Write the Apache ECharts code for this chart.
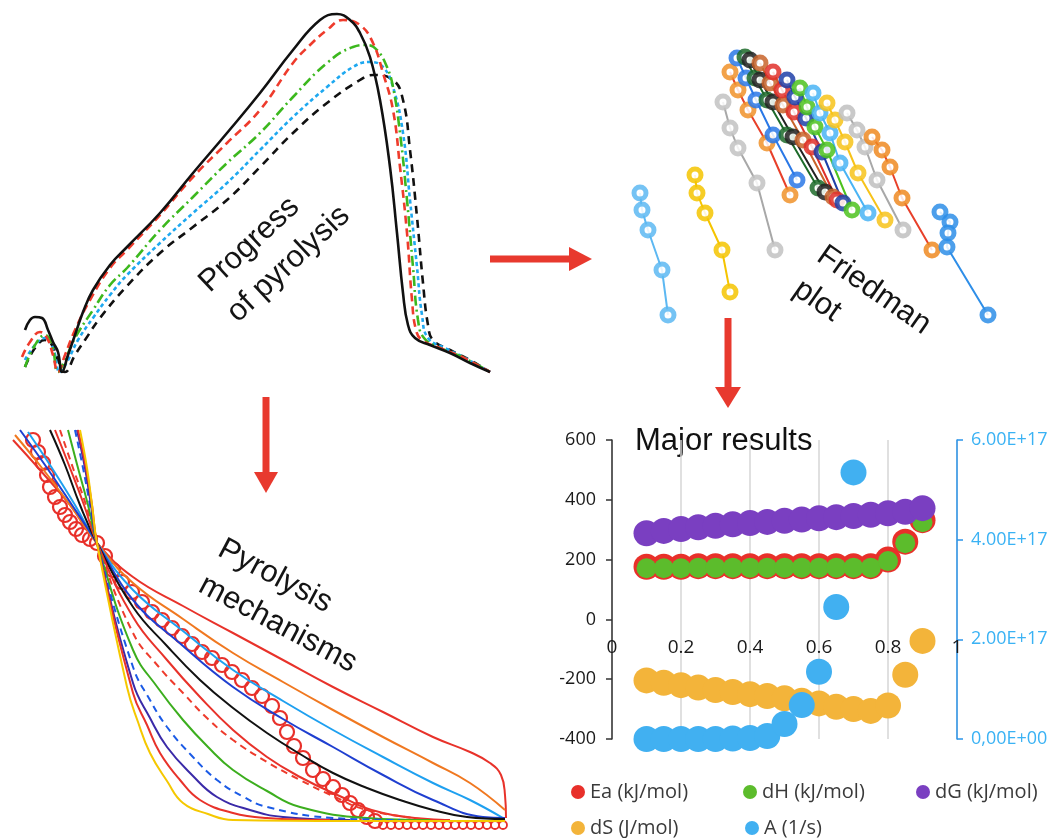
<!DOCTYPE html>
<html>
<head>
<meta charset="utf-8">
<title>Pyrolysis kinetics overview</title>
<script src="https://cdn.jsdelivr.net/npm/echarts/dist/echarts.min.js"></script>
<style>
  html, body { margin: 0; padding: 0; background: #fff; }
  #main { width: 1057px; height: 838px; }
</style>
</head>
<body>
<div id="main"></div>
<script>
// ---------- progress of pyrolysis (rate curves, arbitrary units) ----------
var dtgBlack = [[25,60],[30,70],[35,73],[42,72],[48,60],[53,48],[58,38],[62,18],[68,35],[75,55],[83,78],[93,100],[110,125],[127,143],[160,177],[193,217],[227,257],[260,297],[293,340],[320,370],[337,376],[350,370],[360,357],[370,333],[380,290],[390,223],[397,157],[403,97],[408,65],[415,52],[430,45],[450,37],[470,27],[490,18]];
var dtgRedDash = [[22,33],[30,48],[40,58],[47,52],[53,35],[58,18],[65,35],[75,60],[90,90],[110,122],[127,140],[160,175],[193,213],[227,247],[260,280],[293,327],[310,345],[327,360],[343,370],[360,365],[373,347],[383,317],[393,280],[400,223],[407,157],[412,90],[416,60],[422,50],[440,42],[460,34],[490,18]];
var dtgGreen = [[25,23],[35,45],[45,55],[52,45],[58,18],[65,30],[75,52],[93,80],[110,105],[127,122],[160,160],[193,193],[227,227],[260,257],[293,293],[327,327],[353,343],[367,345],[377,340],[387,323],[393,303],[400,257],[407,190],[413,123],[418,70],[424,52],[440,42],[460,34],[490,18]];
var dtgBlue = [[25,30],[35,45],[45,52],[53,42],[60,18],[68,30],[78,50],[93,72],[110,95],[127,115],[160,147],[193,177],[227,207],[260,240],[293,273],[327,303],[353,323],[370,328],[383,323],[393,303],[403,257],[410,190],[417,123],[422,75],[428,52],[445,42],[465,32],[490,18]];
var dtgBlackDash = [[25,23],[35,42],[45,50],[52,45],[58,30],[65,18],[75,35],[85,50],[100,72],[127,104],[160,137],[193,163],[227,190],[260,223],[293,257],[327,287],[360,310],[373,315],[393,310],[403,290],[410,240],[417,173],[423,107],[428,65],[433,50],[450,40],[470,30],[490,18]];

// ---------- Friedman plot (ln rate vs 1/T, arbitrary units) ----------
var friedBlueLeft = [[640,147],[642,130],[648,110],[662,70],[668,25]];
var friedYellowLeft = [[695,165],[697,147],[705,127],[722,90],[730,48]];
var friedGreyLeft = [[723,238],[730,212],[738,192],[757,157],[775,90]];
var friedOrangeLeft = [[730,268],[738,250],[748,230],[767,197],[790,145]];
var friedBlue = [[737,282],[746,262],[756,240],[773,205],[797,160]];
var friedDarkGreen = [[745,283],[755,262],[767,240],[787,205],[818,152]];
var friedBlack = [[750,280],[760,260],[773,238],[793,203],[825,148]];
var friedBrown = [[760,277],[770,257],[783,235],[803,200],[833,143]];
var friedRed = [[773,268],[782,250],[794,228],[812,193],[837,140]];
var friedNavy = [[787,260],[795,243],[806,222],[822,188],[843,137]];
var friedGreen = [[800,252],[807,233],[815,213],[827,190],[852,130]];
var friedSky = [[813,247],[820,227],[830,207],[840,177],[868,127]];
var friedYellow = [[827,237],[835,220],[845,198],[858,167],[885,120]];
var friedGrey = [[847,227],[857,210],[865,193],[877,160],[903,110]];
var friedOrange = [[872,203],[882,190],[890,173],[902,142],[932,90]];
var friedBlueRight = [[940,128],[950,118],[948,107],[947,93],[988,25]];

// ---------- pyrolysis mechanisms (master plots, arbitrary units) ----------
var mechRedOuter = [[13,398],[40,368],[70,333],[97,295],[133,261],[183,232],[233,205],[283,178],[333,151],[383,126],[433,101],[470,86],[490,75],[501,63],[505,43],[506,20]];
var mechOrange = [[15,403],[42,370],[70,333],[97,295],[133,255],[183,219],[233,185],[283,156],[333,128],[383,101],[433,75],[470,55],[505,28]];
var mechSky = [[28,406],[50,373],[75,333],[97,295],[133,248],[183,207],[233,168],[283,137],[333,108],[383,81],[433,55],[470,38],[503,20]];
var mechBlue = [[20,408],[45,373],[72,333],[97,295],[133,238],[183,192],[233,151],[283,119],[333,91],[383,63],[433,38],[483,21],[505,20]];
var mechBlack = [[50,408],[65,373],[80,333],[97,295],[133,231],[167,192],[200,158],[233,130],[267,105],[300,84],[333,65],[367,50],[400,38],[433,28],[467,21],[505,19]];
var mechRed1 = [[55,408],[70,370],[84,333],[97,295],[133,221],[167,178],[200,141],[233,108],[267,81],[300,61],[333,45],[383,25],[450,18]];
var mechRedDash = [[60,408],[73,370],[86,333],[97,295],[133,205],[158,172],[183,145],[208,119],[233,98],[267,76],[300,58],[333,42],[367,28],[430,18]];
var mechGreen = [[68,408],[78,370],[88,333],[97,295],[133,188],[158,150],[183,118],[208,91],[233,68],[267,47],[300,31],[367,20],[430,18]];
var mechBlueDash = [[75,408],[83,370],[90,333],[97,295],[133,171],[150,138],[167,111],[192,82],[217,58],[242,42],[267,31],[333,20],[400,18]];
var mechPurple = [[77,408],[85,370],[91,333],[97,295],[133,155],[150,120],[167,91],[192,63],[217,41],[250,28],[283,21],[350,18]];
var mechRed2 = [[78,408],[86,370],[92,333],[97,295],[133,145],[147,113],[160,85],[180,58],[200,38],[233,25],[267,20],[330,18]];
var mechYellow = [[80,408],[87,370],[92,333],[97,295],[127,151],[138,116],[150,85],[167,57],[183,35],[208,24],[233,18],[350,17],[505,17]];
var mechExp = [[33,398],[38,386],[43,375],[47,363],[50,351],[55,341],[60,331],[65,323],[70,316],[76,309],[82,303],[90,299],[97,295],[105,282],[113,268],[122,256],[132,246],[142,236],[152,226],[162,218],[172,210],[182,202],[192,194],[202,186],[212,180],[222,173],[232,166],[242,158],[252,150],[262,142],[272,132],[280,120],[287,106],[294,92],[303,80],[313,68],[323,59],[333,51],[342,43],[350,35],[358,28],[367,21],[375,17]];
var mechExpTail = [[383,13],[391,13],[399,13],[407,13],[415,13],[423,13],[431,13],[439,13],[447,13],[455,13],[463,13],[471,13],[479,13],[487,13],[495,13],[503,13]];

// ---------- major results ----------
var alpha = [0.1,0.15,0.2,0.25,0.3,0.35,0.4,0.45,0.5,0.55,0.6,0.65,0.7,0.75,0.8,0.85,0.9];
var ea = [176,176,176,178,178,178,178,178,178,178,178,178,178,178,200,260,332];
var dH = [171,171,171,173,173,173,173,173,173,173,173,173,173,173,195,255,325];
var dG = [288,296,302,308,313,318,322,326,330,334,338,342,346,350,355,360,372];
var dS = [-204,-212,-220,-228,-236,-243,-250,-256,-264,-272,-281,-292,-300,-306,-288,-185,-72];
var preExp = [0,0,0,0,0,0.01,0.02,0.06,0.3,0.68,1.35,2.65,5.35]; // x 1E+17, alpha 0.1 .. 0.7

var RED = '#e8392e';

function zip(xs, ys, k) {
  return ys.map(function (y, i) { return [xs[i], y * (k || 1)]; });
}

function curve(data, color, dash, grid) {
  return {
    type: 'line', xAxisIndex: grid, yAxisIndex: grid, data: data,
    symbol: 'none', smooth: 0.45, silent: true,
    lineStyle: { color: color, width: grid === 0 ? 2.6 : 2, type: dash || 'solid' }
  };
}

function fried(data, marker, line) {
  return {
    type: 'line', xAxisIndex: 1, yAxisIndex: 1, data: data,
    symbol: 'circle', symbolSize: 12, silent: true,
    itemStyle: { color: '#fff', borderColor: marker, borderWidth: 5, opacity: 0.85 },
    lineStyle: { color: line || marker, width: 2 }
  };
}

function dot(name, data, size, color, yIdx) {
  return {
    name: name, type: 'scatter', xAxisIndex: 3, yAxisIndex: yIdx || 3, data: data,
    symbolSize: size, itemStyle: { color: color, opacity: 1 }
  };
}

function hiddenAxis(grid, min, max) {
  return { gridIndex: grid, type: 'value', min: min, max: max, show: false };
}

var series = [
  curve(dtgBlackDash, '#111', [8, 6], 0),
  curve(dtgBlue, '#1ea8f0', [4, 3], 0),
  curve(dtgGreen, '#3cb81e', [10, 4, 2, 4], 0),
  curve(dtgRedDash, '#ee3b2c', [8, 5], 0),
  curve(dtgBlack, '#111', 'solid', 0),

  fried(friedBlueLeft, '#5db8f2'),
  fried(friedYellowLeft, '#f5c400'),
  fried(friedGreyLeft, '#c2c2c2', '#a8a8a8'),
  fried(friedOrangeLeft, '#f0922a', '#e8402a'),
  fried(friedBlue, '#2a78e6'),
  fried(friedDarkGreen, '#1d6b2a'),
  fried(friedBlack, '#222222'),
  fried(friedBrown, '#c8642a'),
  fried(friedRed, '#e0302a'),
  fried(friedNavy, '#1f40a8'),
  fried(friedGreen, '#4cc21e'),
  fried(friedSky, '#4ab4f4'),
  fried(friedYellow, '#f7c31a'),
  fried(friedGrey, '#c0c0c0', '#a8a8a8'),
  fried(friedOrange, '#ef8a22', '#e8402a'),
  fried(friedBlueRight, '#2e8ee8'),

  curve(mechRedOuter, '#e8322a', 'solid', 2),
  curve(mechOrange, '#f07820', 'solid', 2),
  curve(mechSky, '#1ea0f0', 'solid', 2),
  curve(mechBlue, '#1f3fd0', 'solid', 2),
  curve(mechBlack, '#111', 'solid', 2),
  curve(mechRed1, '#e8322a', 'solid', 2),
  curve(mechRedDash, '#ee3b2c', [7, 5], 2),
  curve(mechGreen, '#3cae1e', 'solid', 2),
  curve(mechBlueDash, '#1a5ae6', [7, 5], 2),
  curve(mechPurple, '#3a2aa8', 'solid', 2),
  curve(mechRed2, '#e8322a', 'solid', 2),
  curve(mechYellow, '#f5c800', 'solid', 2),
  {
    type: 'scatter', xAxisIndex: 2, yAxisIndex: 2, data: mechExp, silent: true,
    symbol: 'circle', symbolSize: 14,
    itemStyle: { color: 'transparent', borderColor: '#e8302a', borderWidth: 2.2, opacity: 1 }
  },
  {
    type: 'scatter', xAxisIndex: 2, yAxisIndex: 2, data: mechExpTail, silent: true,
    symbol: 'circle', symbolSize: 8,
    itemStyle: { color: 'transparent', borderColor: '#e8302a', borderWidth: 1.8, opacity: 1 }
  },

  dot('Ea (kJ/mol)', zip(alpha, ea), 26, '#e8302a'),
  dot('dH (kJ/mol)', zip(alpha, dH), 20, '#5cbc2c'),
  dot('dG (kJ/mol)', zip(alpha, dG), 26, '#7a3fc1'),
  dot('dS (J/mol)', zip(alpha, dS), 26, '#f3b43a'),
  dot('A (1/s)', zip(alpha, preExp, 1e17), 26, '#41b0f1', 4)
];

// one legend per entry so the two rows line up in columns
var legendSpots = [
  ['Ea (kJ/mol)', 571, 782], ['dH (kJ/mol)', 743, 782], ['dG (kJ/mol)', 916, 782],
  ['dS (J/mol)', 571, 818], ['A (1/s)', 745, 818]
];
var legends = legendSpots.map(function (s) {
  return {
    data: [s[0]], left: s[1], top: s[2], padding: 0, icon: 'circle',
    itemWidth: 14, itemHeight: 14, itemGap: 0, selectedMode: false,
    textStyle: { fontSize: 20, color: '#3a3a3a', fontFamily: 'Open Sans' }
  };
});

var labelText = { fontFamily: 'Liberation Sans', fontSize: 31, fill: '#141414', align: 'left', verticalAlign: 'top', lineHeight: 41 };

var option = {
  animation: false,
  backgroundColor: '#fff',
  legend: legends,
  grid: [
    { left: 0, top: 0, width: 500, height: 390 },
    { left: 590, top: 30, width: 420, height: 310 },
    { left: 0, top: 420, width: 520, height: 418 },
    { left: 612, top: 440, width: 345, height: 299 }
  ],
  xAxis: [
    hiddenAxis(0, 0, 500),
    hiddenAxis(1, 590, 1010),
    hiddenAxis(2, 0, 520),
    {
      // labels sit on the zero line of the left axis (120 px above the bottom)
      gridIndex: 3, type: 'value', min: 0, max: 1, interval: 0.2,
      position: 'bottom', offset: -120,
      axisLine: { onZero: false, lineStyle: { opacity: 0 } },
      axisTick: { show: false },
      axisLabel: { fontSize: 19, color: '#1a1a1a', margin: 19, fontFamily: 'Open Sans' },
      splitLine: { show: true, lineStyle: { color: '#d6d6d6', width: 1.5 } }
    }
  ],
  yAxis: [
    hiddenAxis(0, 0, 390),
    hiddenAxis(1, 0, 310),
    hiddenAxis(2, 0, 418),
    {
      gridIndex: 3, type: 'value', position: 'left', min: -400, max: 600, interval: 200,
      axisLine: { show: true, onZero: false, lineStyle: { color: '#333', width: 1.5 } },
      axisTick: { show: true, length: 6, lineStyle: { color: '#333', width: 1.5 } },
      axisLabel: { fontSize: 18, color: '#1a1a1a', margin: 16, fontFamily: 'Open Sans' },
      splitLine: { show: false }
    },
    {
      gridIndex: 3, type: 'value', position: 'right', min: 0, max: 6e17, interval: 2e17,
      axisLine: { show: true, onZero: false, lineStyle: { color: '#2b95ea', width: 1.5 } },
      axisTick: { show: true, length: 6, lineStyle: { color: '#2b95ea', width: 1.5 } },
      axisLabel: {
        fontSize: 18, color: '#3ab2f4', margin: 14, fontFamily: 'Open Sans',
        formatter: function (v) { return v === 0 ? '0,00E+00' : (v / 1e17).toFixed(2) + 'E+17'; }
      },
      splitLine: { show: false }
    }
  ],
  graphic: [
    // arrows between the panels
    { type: 'rect', shape: { x: 490, y: 255.5, width: 81, height: 7 }, style: { fill: RED } },
    { type: 'polygon', shape: { points: [[569, 247], [592, 259], [569, 271]] }, style: { fill: RED } },
    { type: 'rect', shape: { x: 724.5, y: 318, width: 7, height: 71 }, style: { fill: RED } },
    { type: 'polygon', shape: { points: [[715, 387], [741, 387], [728, 408]] }, style: { fill: RED } },
    { type: 'rect', shape: { x: 262.5, y: 397, width: 7, height: 77 }, style: { fill: RED } },
    { type: 'polygon', shape: { points: [[254, 472], [278, 472], [266, 493]] }, style: { fill: RED } },
    // panel captions
    { type: 'text', x: 190, y: 272, rotation: 43 * Math.PI / 180, style: Object.assign({ text: 'Progress\nof pyrolysis' }, labelText) },
    { type: 'text', x: 832, y: 236, rotation: -35 * Math.PI / 180, style: Object.assign({ text: 'Friedman\nplot' }, labelText) },
    { type: 'text', x: 230, y: 529, rotation: -28 * Math.PI / 180, style: Object.assign({ text: 'Pyrolysis\nmechanisms' }, labelText) },
    { type: 'text', x: 635, y: 441, style: { text: 'Major results', fontFamily: 'Liberation Sans', fontSize: 31, fill: '#111', align: 'left', verticalAlign: 'middle' } }
  ],
  series: series
};

var chart = echarts.init(document.getElementById('main'));
chart.setOption(option);
</script>
</body>
</html>
